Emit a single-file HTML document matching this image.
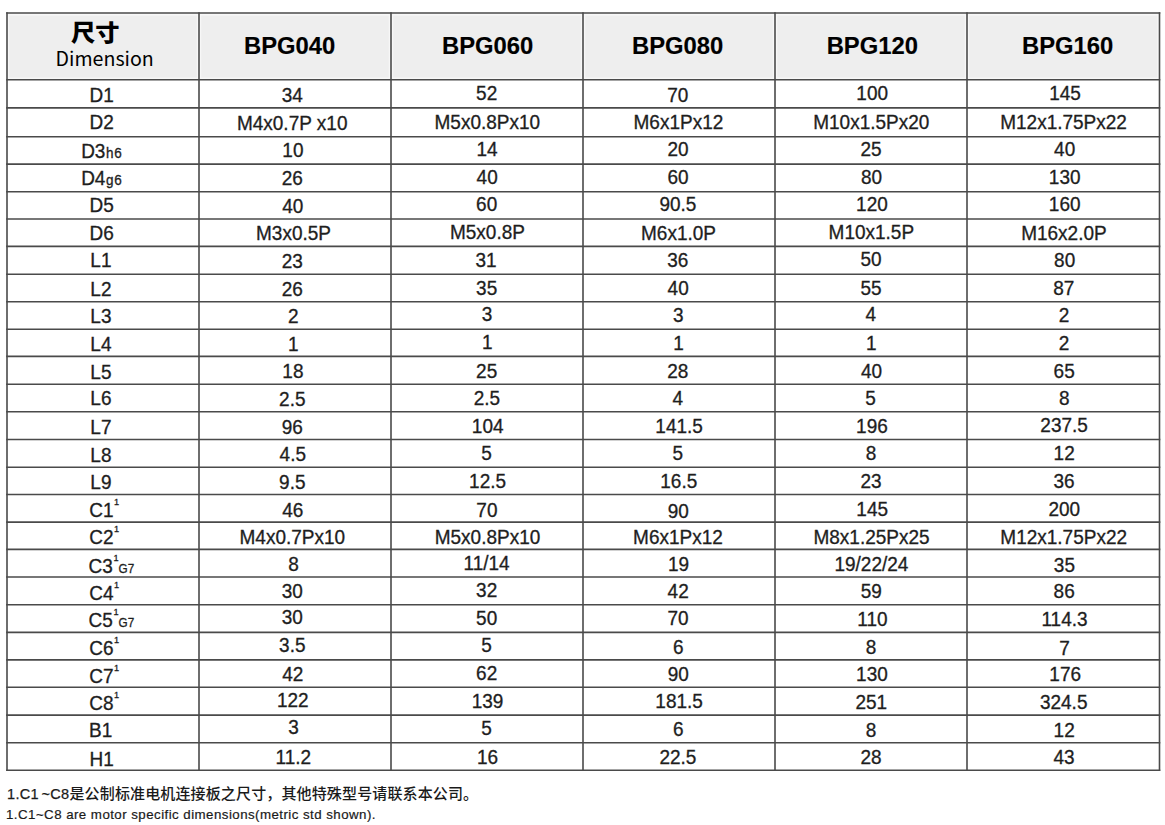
<!DOCTYPE html>
<html><head><meta charset="utf-8"><style>
html,body{margin:0;padding:0;background:#fff;}
body{width:1165px;height:825px;position:relative;overflow:hidden;font-family:"Liberation Sans",Arial,sans-serif;}
svg.grid{position:absolute;left:0;top:0;z-index:0;}
.c,.h,.cjk,.f1,.f2{z-index:1;}
.c{position:absolute;width:192px;text-align:center;font-size:19px;line-height:19px;color:#1e1e1e;white-space:nowrap;transform:scaleY(1.035);transform-origin:50% 16px;-webkit-text-stroke:0.3px #1e1e1e;}
.c small{font-size:13.5px;letter-spacing:0.7px;margin-left:0.6px;}
.c sup{font-size:9.2px;vertical-align:0;position:relative;top:-11.8px;margin-left:0.6px;}
.c i{font-style:normal;font-size:11.7px;}
.h{position:absolute;width:192px;text-align:center;font-weight:bold;font-size:23.8px;line-height:24px;color:#000;white-space:nowrap;-webkit-text-stroke:0.15px #000;}
.cjk{font-family:"Noto Sans CJK SC","Liberation Sans",sans-serif;}
.f1{position:absolute;left:7px;top:783.2px;font-family:"Noto Sans CJK SC",sans-serif;font-size:15px;font-weight:500;letter-spacing:0.14px;line-height:20px;color:#1a1a1a;white-space:nowrap;}
.f1 .lat{font-family:"Liberation Sans",sans-serif;font-size:14.5px;letter-spacing:0.35px;word-spacing:-2px;font-weight:400;-webkit-text-stroke:0.25px #1a1a1a;}
.f2{position:absolute;left:6px;top:807px;font-family:"Liberation Sans",sans-serif;font-size:13.3px;letter-spacing:0.45px;line-height:16px;color:#1a1a1a;-webkit-text-stroke:0.2px #1a1a1a;white-space:nowrap;}
</style></head><body>
<div class="cjk" style="position:absolute;left:71px;top:15.8px;font-size:23px;line-height:30px;font-weight:900;color:#000;transform:scaleX(1.055);transform-origin:0 0;">尺寸</div>
<div class="cjk" style="position:absolute;left:55.6px;top:46.2px;font-size:19.6px;line-height:24px;color:#000;">Dimension</div>
<div class="h" style="left:193.60px;top:34.00px">BPG040</div><div class="h" style="left:391.60px;top:34.00px">BPG060</div><div class="h" style="left:581.60px;top:34.00px">BPG080</div><div class="h" style="left:776.30px;top:34.00px">BPG120</div><div class="h" style="left:971.60px;top:34.00px">BPG160</div>
<div class="c" style="left:5.70px;top:85.52px">D1</div>
<div class="c" style="left:196.35px;top:85.62px">34</div>
<div class="c" style="left:390.65px;top:84.42px">52</div>
<div class="c" style="left:581.85px;top:85.62px">70</div>
<div class="c" style="left:776.20px;top:84.42px">100</div>
<div class="c" style="left:969.00px;top:84.42px">145</div>
<div class="c" style="left:5.70px;top:113.32px">D2</div>
<div class="c" style="left:196.20px;top:113.52px">M4x0.7P x10</div>
<div class="c" style="left:391.35px;top:112.62px">M5x0.8Px10</div>
<div class="c" style="left:582.40px;top:112.62px">M6x1Px12</div>
<div class="c" style="left:775.30px;top:112.62px">M10x1.5Px20</div>
<div class="c" style="left:967.55px;top:112.62px">M12x1.75Px22</div>
<div class="c" style="left:5.80px;top:142.02px">D3<small>h6</small></div>
<div class="c" style="left:196.95px;top:141.02px">10</div>
<div class="c" style="left:391.10px;top:140.32px">14</div>
<div class="c" style="left:582.10px;top:140.32px">20</div>
<div class="c" style="left:775.10px;top:139.82px">25</div>
<div class="c" style="left:968.65px;top:140.32px">40</div>
<div class="c" style="left:5.80px;top:169.02px">D4<small>g6</small></div>
<div class="c" style="left:196.35px;top:168.62px">26</div>
<div class="c" style="left:391.15px;top:167.82px">40</div>
<div class="c" style="left:582.10px;top:168.12px">60</div>
<div class="c" style="left:775.60px;top:167.52px">80</div>
<div class="c" style="left:968.70px;top:167.52px">130</div>
<div class="c" style="left:5.70px;top:196.12px">D5</div>
<div class="c" style="left:196.85px;top:196.52px">40</div>
<div class="c" style="left:390.65px;top:195.22px">60</div>
<div class="c" style="left:581.95px;top:195.22px">90.5</div>
<div class="c" style="left:775.95px;top:194.82px">120</div>
<div class="c" style="left:968.70px;top:195.22px">160</div>
<div class="c" style="left:5.70px;top:224.32px">D6</div>
<div class="c" style="left:197.50px;top:224.37px">M3x0.5P</div>
<div class="c" style="left:391.45px;top:222.52px">M5x0.8P</div>
<div class="c" style="left:582.50px;top:223.52px">M6x1.0P</div>
<div class="c" style="left:775.35px;top:223.22px">M10x1.5P</div>
<div class="c" style="left:967.95px;top:223.52px">M16x2.0P</div>
<div class="c" style="left:4.90px;top:251.32px">L1</div>
<div class="c" style="left:196.35px;top:251.52px">23</div>
<div class="c" style="left:390.00px;top:250.62px">31</div>
<div class="c" style="left:581.85px;top:251.22px">36</div>
<div class="c" style="left:775.10px;top:250.12px">50</div>
<div class="c" style="left:968.65px;top:250.62px">80</div>
<div class="c" style="left:4.90px;top:279.72px">L2</div>
<div class="c" style="left:196.35px;top:279.72px">26</div>
<div class="c" style="left:390.65px;top:279.02px">35</div>
<div class="c" style="left:582.15px;top:279.02px">40</div>
<div class="c" style="left:775.10px;top:279.02px">55</div>
<div class="c" style="left:967.80px;top:279.02px">87</div>
<div class="c" style="left:4.90px;top:307.12px">L3</div>
<div class="c" style="left:197.20px;top:307.02px">2</div>
<div class="c" style="left:391.15px;top:305.32px">3</div>
<div class="c" style="left:582.35px;top:306.22px">3</div>
<div class="c" style="left:774.90px;top:305.32px">4</div>
<div class="c" style="left:968.00px;top:305.92px">2</div>
<div class="c" style="left:4.90px;top:334.72px">L4</div>
<div class="c" style="left:197.25px;top:334.82px">1</div>
<div class="c" style="left:391.35px;top:333.12px">1</div>
<div class="c" style="left:582.55px;top:333.52px">1</div>
<div class="c" style="left:775.35px;top:333.52px">1</div>
<div class="c" style="left:968.00px;top:333.52px">2</div>
<div class="c" style="left:4.90px;top:362.92px">L5</div>
<div class="c" style="left:196.95px;top:362.32px">18</div>
<div class="c" style="left:390.65px;top:362.32px">25</div>
<div class="c" style="left:581.85px;top:362.32px">28</div>
<div class="c" style="left:775.60px;top:362.32px">40</div>
<div class="c" style="left:968.20px;top:362.32px">65</div>
<div class="c" style="left:4.90px;top:389.32px">L6</div>
<div class="c" style="left:196.30px;top:389.52px">2.5</div>
<div class="c" style="left:390.85px;top:389.22px">2.5</div>
<div class="c" style="left:581.90px;top:389.22px">4</div>
<div class="c" style="left:774.65px;top:389.22px">5</div>
<div class="c" style="left:968.20px;top:389.22px">8</div>
<div class="c" style="left:4.90px;top:417.52px">L7</div>
<div class="c" style="left:196.35px;top:417.62px">96</div>
<div class="c" style="left:391.70px;top:417.12px">104</div>
<div class="c" style="left:583.10px;top:417.12px">141.5</div>
<div class="c" style="left:775.95px;top:416.72px">196</div>
<div class="c" style="left:968.10px;top:416.42px">237.5</div>
<div class="c" style="left:4.90px;top:445.72px">L8</div>
<div class="c" style="left:196.80px;top:444.82px">4.5</div>
<div class="c" style="left:390.65px;top:444.02px">5</div>
<div class="c" style="left:581.85px;top:444.02px">5</div>
<div class="c" style="left:775.15px;top:444.02px">8</div>
<div class="c" style="left:968.20px;top:444.32px">12</div>
<div class="c" style="left:4.90px;top:472.52px">L9</div>
<div class="c" style="left:196.30px;top:472.72px">9.5</div>
<div class="c" style="left:391.60px;top:471.92px">12.5</div>
<div class="c" style="left:582.80px;top:471.92px">16.5</div>
<div class="c" style="left:775.10px;top:471.92px">23</div>
<div class="c" style="left:968.05px;top:471.92px">36</div>
<div class="c" style="left:8.20px;top:500.92px">C1<sup>1</sup></div>
<div class="c" style="left:196.85px;top:500.82px">46</div>
<div class="c" style="left:390.90px;top:501.22px">70</div>
<div class="c" style="left:582.25px;top:502.02px">90</div>
<div class="c" style="left:776.20px;top:500.32px">145</div>
<div class="c" style="left:968.25px;top:500.32px">200</div>
<div class="c" style="left:8.20px;top:528.12px">C2<sup>1</sup></div>
<div class="c" style="left:196.35px;top:527.92px">M4x0.7Px10</div>
<div class="c" style="left:391.50px;top:527.92px">M5x0.8Px10</div>
<div class="c" style="left:582.00px;top:527.92px">M6x1Px12</div>
<div class="c" style="left:775.55px;top:527.92px">M8x1.25Px25</div>
<div class="c" style="left:967.70px;top:527.92px">M12x1.75Px22</div>
<div class="c" style="left:15.40px;top:556.52px">C3<sup>1</sup><i>G7</i></div>
<div class="c" style="left:197.45px;top:554.92px">8</div>
<div class="c" style="left:390.55px;top:554.42px">11/14</div>
<div class="c" style="left:582.50px;top:554.92px">19</div>
<div class="c" style="left:775.45px;top:555.22px">19/22/24</div>
<div class="c" style="left:968.45px;top:555.62px">35</div>
<div class="c" style="left:8.20px;top:583.92px">C4<sup>1</sup></div>
<div class="c" style="left:196.35px;top:581.82px">30</div>
<div class="c" style="left:390.65px;top:581.22px">32</div>
<div class="c" style="left:582.15px;top:581.82px">42</div>
<div class="c" style="left:775.35px;top:582.12px">59</div>
<div class="c" style="left:968.20px;top:582.42px">86</div>
<div class="c" style="left:15.40px;top:611.32px">C5<sup>1</sup><i>G7</i></div>
<div class="c" style="left:196.35px;top:608.22px">30</div>
<div class="c" style="left:390.65px;top:609.12px">50</div>
<div class="c" style="left:582.00px;top:609.42px">70</div>
<div class="c" style="left:776.45px;top:609.82px">110</div>
<div class="c" style="left:968.50px;top:610.32px">114.3</div>
<div class="c" style="left:8.20px;top:638.52px">C6<sup>1</sup></div>
<div class="c" style="left:196.30px;top:636.42px">3.5</div>
<div class="c" style="left:390.65px;top:636.42px">5</div>
<div class="c" style="left:582.35px;top:637.62px">6</div>
<div class="c" style="left:775.15px;top:638.12px">8</div>
<div class="c" style="left:968.45px;top:638.52px">7</div>
<div class="c" style="left:8.20px;top:666.72px">C7<sup>1</sup></div>
<div class="c" style="left:196.85px;top:664.52px">42</div>
<div class="c" style="left:390.65px;top:664.32px">62</div>
<div class="c" style="left:582.25px;top:665.42px">90</div>
<div class="c" style="left:775.95px;top:665.42px">130</div>
<div class="c" style="left:969.20px;top:665.42px">176</div>
<div class="c" style="left:8.20px;top:694.12px">C8<sup>1</sup></div>
<div class="c" style="left:196.80px;top:691.42px">122</div>
<div class="c" style="left:391.60px;top:691.72px">139</div>
<div class="c" style="left:583.10px;top:692.22px">181.5</div>
<div class="c" style="left:775.25px;top:692.92px">251</div>
<div class="c" style="left:967.70px;top:692.92px">324.5</div>
<div class="c" style="left:4.70px;top:721.12px">B1</div>
<div class="c" style="left:197.45px;top:718.02px">3</div>
<div class="c" style="left:390.65px;top:718.82px">5</div>
<div class="c" style="left:582.35px;top:719.72px">6</div>
<div class="c" style="left:775.15px;top:720.52px">8</div>
<div class="c" style="left:968.20px;top:721.02px">12</div>
<div class="c" style="left:5.70px;top:749.52px">H1</div>
<div class="c" style="left:197.40px;top:747.92px">11.2</div>
<div class="c" style="left:391.50px;top:747.92px">16</div>
<div class="c" style="left:581.95px;top:747.92px">22.5</div>
<div class="c" style="left:775.10px;top:748.42px">28</div>
<div class="c" style="left:968.05px;top:748.42px">43</div>
<svg class="grid" width="1165" height="825" viewBox="0 0 1165 825"><rect x="7" y="13" width="1153" height="67" fill="#f7f7f7"/><rect x="9.2" y="15.6" width="187.6" height="62" fill="#eeeeee"/><rect x="201.2" y="15.6" width="187.6" height="62" fill="#eeeeee"/><rect x="393.2" y="15.6" width="187.6" height="62" fill="#eeeeee"/><rect x="585.2" y="15.6" width="187.6" height="62" fill="#eeeeee"/><rect x="777.2" y="15.6" width="187.6" height="62" fill="#eeeeee"/><rect x="969.2" y="15.6" width="188.1" height="62" fill="#eeeeee"/><g stroke="#4a4a4a" stroke-width="1.6" fill="none"><line x1="7" y1="12.2" x2="7" y2="771.0999999999999"/><line x1="199" y1="12.2" x2="199" y2="771.0999999999999"/><line x1="391" y1="12.2" x2="391" y2="771.0999999999999"/><line x1="583" y1="12.2" x2="583" y2="771.0999999999999"/><line x1="775" y1="12.2" x2="775" y2="771.0999999999999"/><line x1="967" y1="12.2" x2="967" y2="771.0999999999999"/><line x1="1159.5" y1="12.2" x2="1159.5" y2="771.0999999999999"/><line x1="6.2" y1="13" x2="1160.3" y2="13"/><line x1="6.2" y1="79.7" x2="1160.3" y2="79.7"/><line x1="6.2" y1="107.9" x2="1160.3" y2="107.9"/><line x1="6.2" y1="136.7" x2="1160.3" y2="136.7"/><line x1="6.2" y1="164.1" x2="1160.3" y2="164.1"/><line x1="6.2" y1="191.8" x2="1160.3" y2="191.8"/><line x1="6.2" y1="219" x2="1160.3" y2="219"/><line x1="6.2" y1="246.4" x2="1160.3" y2="246.4"/><line x1="6.2" y1="274.2" x2="1160.3" y2="274.2"/><line x1="6.2" y1="301.8" x2="1160.3" y2="301.8"/><line x1="6.2" y1="329.3" x2="1160.3" y2="329.3"/><line x1="6.2" y1="356.4" x2="1160.3" y2="356.4"/><line x1="6.2" y1="384.2" x2="1160.3" y2="384.2"/><line x1="6.2" y1="411.8" x2="1160.3" y2="411.8"/><line x1="6.2" y1="439.5" x2="1160.3" y2="439.5"/><line x1="6.2" y1="467.2" x2="1160.3" y2="467.2"/><line x1="6.2" y1="494.5" x2="1160.3" y2="494.5"/><line x1="6.2" y1="522.1" x2="1160.3" y2="522.1"/><line x1="6.2" y1="549.4" x2="1160.3" y2="549.4"/><line x1="6.2" y1="577" x2="1160.3" y2="577"/><line x1="6.2" y1="604.8" x2="1160.3" y2="604.8"/><line x1="6.2" y1="632.4" x2="1160.3" y2="632.4"/><line x1="6.2" y1="659.9" x2="1160.3" y2="659.9"/><line x1="6.2" y1="687.3" x2="1160.3" y2="687.3"/><line x1="6.2" y1="715.1" x2="1160.3" y2="715.1"/><line x1="6.2" y1="742.7" x2="1160.3" y2="742.7"/><line x1="6.2" y1="770.3" x2="1160.3" y2="770.3"/></g></svg>
<div class="f1"><span class="lat">1.C1 ~C8</span>是公制标准电机连接板之尺寸，其他特殊型号请联系本公司。</div>
<div class="f2">1.C1~C8 are motor specific dimensions(metric std shown).</div>
</body></html>
